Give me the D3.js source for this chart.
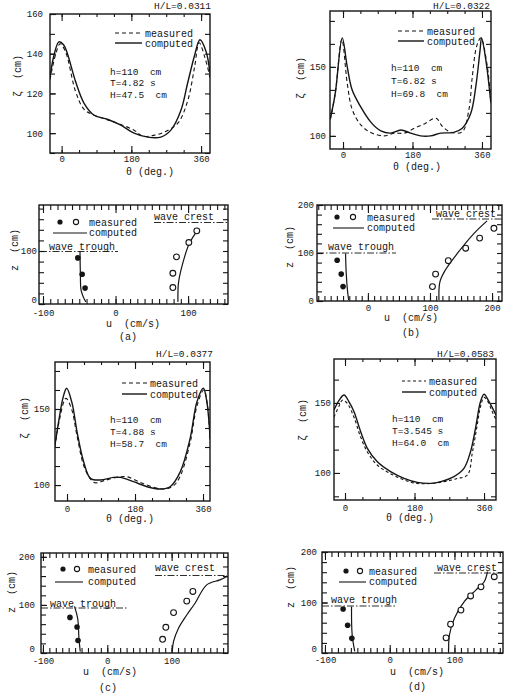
<!DOCTYPE html>
<html><head><meta charset="utf-8">
<script src="https://cdn.jsdelivr.net/npm/d3@7"></script>
<style>
body{margin:0;background:#fff}
svg{display:block}
text{font-family:"Liberation Mono","DejaVu Sans Mono",monospace;fill:#151515;white-space:pre}
</style>
</head><body><svg id="c" width="507" height="694"></svg>
<script>
// ---------------- DATA ----------------
// surface profiles  (theta in deg, zeta in cm)
const aThetaComp = [-30,-20,-7,5,15,36,58,84,118,153,187,222,256,282,308,325,343,357,373,383];
const aZetaComp  = [128,139,146,144.5,140,126,115,109,107,104,100,98,98,101.5,111.5,125,139,147,141,130];
const aThetaMeas = [-30,-15,-4,10,36,58,84,130,187,210,240,270,300,325,343,355,370,383];
const aZetaMeas  = [127,140,145,141,121,112,109,106,101.5,98.5,99,101,105,116,133,145.5,138,128];

const bThetaComp = [-33,-20,-2,11,24,46,72,98,123,150,175,201,227,253,287,309,331,344,355,359,370,383];
const bZetaComp  = [112,131,171,150,133,121,110,103.6,102,104.3,102,100,100,102,102.6,105.6,116.4,135.7,162,171,155,124];
const bThetaMeas = [-33,-20,-3,11,24,46,72,107,133,159,185,211,241,258,280,309,326,335,346,357,374,383];
const bZetaMeas  = [112,131,170,138,119,108,102.4,100,102,102,105.6,108.7,112.8,106.7,102.6,103,118.8,143,164.7,171,150,124];

const cThetaComp = [-32,-20,-10,-1,13.5,26.5,44,62,88,123,141,176,212,247,273,300,326,344,361,370,379];
const cZetaComp  = [126,145,158,163.6,153.7,135,115.3,104.4,103.3,105,105,102.2,98.9,97.4,98.9,108.8,130.7,154.8,163.6,155,130];
const cThetaMeas = [-32,-20,-3,12,26,44,62,74,100,130,158,194,230,260,282,300,326,344,362,372,379];
const cZetaMeas  = [125,143,157,150,133,113,104,101.5,103,105,105.5,101.7,98.5,97.4,99.5,106,128,152,162.5,152,128];

const dThetaComp = [-28.5,-15,-2.6,10,23.3,40.6,57.9,83.8,118,153,187.5,222,248,282,308,325,338,351,360,373,391];
const dZetaComp  = [145,152,155.7,151,143.8,129.5,117.6,108,101,96.2,93.3,92.6,93.8,97.4,103.3,115.2,132,151,156.2,151,141.4];
const dThetaMeas = [-28.5,-15,-7,5,23,40,58,84,118,153,187,222,260,290,317,330,341,351,360,368,381,391];
const dZetaMeas  = [140,148,152,150,140,126,115,105.5,99.5,95,92.5,92.5,94,96,98.6,115,132,147.6,154,152,144,138];

// velocity profiles (u in cm/s, z in cm)
const aTroughMeasU = [-52,-46,-42],            aTroughMeasZ = [87,56,30];
const aTroughCompU = [-49,-48.5,-47.5,-44,-41], aTroughCompZ = [100,60,26,12,4];
const aCrestMeasU  = [79,79,84,101,112],         aCrestMeasZ  = [31,58,89,116,138];
const aCrestCompU  = [86,86.7,91.3,101.8,114],   aCrestCompZ  = [4,39,70,114.5,141];

const bTroughMeasU = [-49.5,-43,-40],            bTroughMeasZ = [85,56,30];
const bTroughCompU = [-36,-35,-33,-31],          bTroughCompZ = [99,60,23,2];
const bCrestMeasU  = [104,109,129.5,157.5,180,203], bCrestMeasZ = [30,56,84,110,131,151.5];
const bCrestCompU  = [114.5,116,125,144,171,192],   bCrestCompZ = [2,40,65,99,141,167];

const cTroughMeasU = [-58,-47,-45.5],            cTroughMeasZ = [74,54,26];
const cTroughCompU = [-51,-46,-44,-42],          cTroughCompZ = [97,72,30,3];
const cCrestMeasU  = [86,91,103,123.5,133],      cCrestMeasZ  = [28.5,53.5,84,108,128];
const cCrestCompU  = [101,103,110.5,123.5,136.4,154.5,175,186], cCrestCompZ = [3,24,51,79,103.5,141.7,152,159];

const dTroughMeasU = [-72,-65,-58.5],            dTroughMeasZ = [87,55,29];
const dTroughCompU = [-59,-58,-54],              dTroughCompZ = [92,36,3];
const dCrestMeasU  = [87,94,110,125,141,161.5],  dCrestMeasZ  = [30,57,85,113,131,151];
const dCrestCompU  = [91,92.3,100,115.4,133.4,146,151], dCrestCompZ = [3,36,69,102,125,141,161];

// tick labels
const thetaTickLabels = [0,180,360];
const thetaMinorTicks = [0,45,90,135,180,225,270,315,360];
const uTickLabelsA = [-100,0,100];
const uTickLabelsB = [0,100,200];
const zTickLabelsA = [0,100];
const zTickLabelsB = [0,100,200];
const ratioLabels = ["H/L=0.0311","H/L=0.0322","H/L=0.0377","H/L=0.0583"];
const paramLabels = [
  ["h=110  cm","T=4.82 s","H=47.5  cm"],
  ["h=110  cm","T=6.82 s","H=69.8  cm"],
  ["h=110  cm","T=4.88 s","H=58.7  cm"],
  ["h=110  cm","T=3.545 s","H=64.0  cm"]
];
const panelLetters = ["(a)","(b)","(c)","(d)"];

// ---------------- DRAWING ----------------
const svg = d3.select("#c");
const INK = "#151515";
let clipN = 0;
const zip = (a,b) => a.map((v,i)=>[v,b[i]]);
const range = (a,b,s) => { const r=[]; for(let v=a; v<=b+1e-9; v+=s) r.push(+v.toFixed(3)); return r; };

function frameAndAxes(o, x, y){
  const g = svg.append("g");
  const styleAxis = sel => {
    sel.select(".domain").remove();
    sel.selectAll("line").attr("stroke",INK).attr("stroke-width",1.1);
    sel.selectAll("text").attr("font-family",'"Liberation Mono",monospace').attr("font-size",o.tickFont||9).attr("fill",INK);
  };
  // minor ticks
  g.append("g").attr("transform",`translate(0,${o.y1})`).call(d3.axisBottom(x).tickValues(o.xMinor).tickSize(-o.minorLen).tickFormat("")).call(styleAxis);
  g.append("g").attr("transform",`translate(0,${o.y0})`).call(d3.axisTop(x).tickValues(o.xMinor).tickSize(-o.minorLen).tickFormat("")).call(styleAxis);
  g.append("g").attr("transform",`translate(${o.x0},0)`).call(d3.axisLeft(y).tickValues(o.yMinor).tickSize(-5).tickFormat("")).call(styleAxis);
  g.append("g").attr("transform",`translate(${o.x1},0)`).call(d3.axisRight(y).tickValues(o.yMinor).tickSize(-5).tickFormat("")).call(styleAxis);
  // major ticks with labels
  g.append("g").attr("transform",`translate(0,${o.y1})`).call(d3.axisBottom(x).tickValues(o.xLabels).tickSize(-o.majorLen).tickPadding(o.xPad).tickFormat(d=>d)).call(styleAxis);
  g.append("g").attr("transform",`translate(0,${o.y0})`).call(d3.axisTop(x).tickValues(o.xLabels).tickSize(-o.majorLen).tickFormat("")).call(styleAxis);
  const yl = g.append("g").attr("transform",`translate(${o.x0},0)`).call(d3.axisLeft(y).tickValues(o.yLabels).tickSize(-6).tickPadding(o.yPad).tickFormat(d=>d)).call(styleAxis);
  if (o.liftZero) yl.selectAll(".tick").filter(d=>d===0).select("text").attr("dy","-0.2em");
  // frame
  g.append("rect").attr("x",o.x0).attr("y",o.y0).attr("width",o.x1-o.x0).attr("height",o.y1-o.y0)
    .attr("fill","none").attr("stroke",INK).attr("stroke-width",1.4);
  // axis titles
  svg.append("text").attr("x",o.xt[0]).attr("y",o.xt[1]).attr("text-anchor","middle").attr("font-size",10).text(o.xTitle);
  svg.append("text").attr("transform",`translate(${o.yt[0]},${o.yt[1]}) rotate(-90)`).attr("text-anchor","middle").attr("font-size",10).text(o.yTitle);
  const id = "clip"+(clipN++);
  svg.append("clipPath").attr("id",id).append("rect").attr("x",o.x0).attr("y",o.y0).attr("width",o.x1-o.x0).attr("height",o.y1-o.y0);
  return id;
}

function surfacePanel(o){
  const x = d3.scaleLinear().domain(o.xd).range([o.x0,o.x1]);
  const y = d3.scaleLinear().domain(o.yd).range([o.y1,o.y0]);
  o.xMinor = thetaMinorTicks; o.xLabels = thetaTickLabels;
  o.minorLen = 3; o.majorLen = 7;
  o.xTitle = "θ (deg.)"; o.yTitle = "ζ  (cm)";
  const id = frameAndAxes(o,x,y);
  const line = d3.line().x(d=>x(d[0])).y(d=>y(d[1])).curve(d3.curveCatmullRom.alpha(0.5));
  const g = svg.append("g").attr("clip-path",`url(#${id})`);
  g.append("path").datum(zip(o.tm,o.zm)).attr("d",line).attr("fill","none").attr("stroke",INK).attr("stroke-width",1.1).attr("stroke-dasharray",o.dash);
  g.append("path").datum(zip(o.tc,o.zc)).attr("d",line).attr("fill","none").attr("stroke",INK).attr("stroke-width",1.4);
  // ratio label
  svg.append("text").attr("x",o.ratio[0]).attr("y",o.ratio[1]).attr("text-anchor","end").attr("font-size",9.5).text(ratioLabels[o.k]);
  // legend
  const L = o.leg;
  svg.append("line").attr("x1",L[0]).attr("x2",L[1]).attr("y1",L[2]).attr("y2",L[2]).attr("stroke",INK).attr("stroke-width",1.1).attr("stroke-dasharray",o.dash);
  svg.append("line").attr("x1",L[0]).attr("x2",L[1]).attr("y1",L[3]).attr("y2",L[3]).attr("stroke",INK).attr("stroke-width",1.4);
  svg.append("text").attr("x",L[1]+3).attr("y",L[2]+3.5).attr("font-size",10).text("measured");
  svg.append("text").attr("x",L[1]+3).attr("y",L[3]+3.5).attr("font-size",10).text("computed");
  paramLabels[o.k].forEach((t,i)=>{
    svg.append("text").attr("x",o.par[0]).attr("y",o.par[1]+i*o.par[2]).attr("font-size",9.5).text(t);
  });
}

function velocityPanel(o){
  const x = d3.scaleLinear().domain(o.xd).range([o.x0,o.x1]);
  const y = d3.scaleLinear().domain(o.yd).range([o.y1,o.y0]);
  o.xMinor = range(Math.ceil(o.xd[0]/10)*10, o.xd[1], 10);
  o.yMinor = range(0, o.yd[1], 20);
  o.minorLen = 5; o.majorLen = 8;
  o.xTitle = "u  (cm/s)"; o.yTitle = "z  (cm)";
  const id = frameAndAxes(o,x,y);
  const line = d3.line().x(d=>x(d[0])).y(d=>y(d[1])).curve(d3.curveCatmullRom.alpha(0.5));
  const g = svg.append("g").attr("clip-path",`url(#${id})`);
  g.append("path").datum(zip(o.tcU,o.tcZ)).attr("d",line).attr("fill","none").attr("stroke",INK).attr("stroke-width",1.2);
  g.append("path").datum(zip(o.ccU,o.ccZ)).attr("d",line).attr("fill","none").attr("stroke",INK).attr("stroke-width",1.2);
  g.selectAll(".f").data(zip(o.tmU,o.tmZ)).join("circle").attr("cx",d=>x(d[0])).attr("cy",d=>y(d[1])).attr("r",2.8).attr("fill",INK);
  g.selectAll(".o").data(zip(o.cmU,o.cmZ)).join("circle").attr("cx",d=>x(d[0])).attr("cy",d=>y(d[1])).attr("r",2.9).attr("fill","#fff").attr("stroke",INK).attr("stroke-width",1.1);
  // legend
  const L = o.leg; // [dotX, openX, rowY, lineX0, lineX1, row2Y, textX]
  svg.append("circle").attr("cx",L[0]).attr("cy",L[2]).attr("r",2.6).attr("fill",INK);
  svg.append("circle").attr("cx",L[1]).attr("cy",L[2]).attr("r",2.6).attr("fill","#fff").attr("stroke",INK).attr("stroke-width",1.1);
  svg.append("text").attr("x",L[6]).attr("y",L[2]+3.5).attr("font-size",10).text("measured");
  svg.append("line").attr("x1",L[3]).attr("x2",L[4]).attr("y1",L[5]).attr("y2",L[5]).attr("stroke",INK).attr("stroke-width",1.1);
  svg.append("text").attr("x",L[6]).attr("y",L[5]+3).attr("font-size",10).text("computed");
  // wave crest / trough labels with underline
  const dd = "7,2,1.5,2";
  const C = o.crest, T = o.trough; // [textX, textY, lineX0, lineX1, lineY]
  svg.append("text").attr("x",C[0]).attr("y",C[1]).attr("font-size",10).text("wave crest");
  svg.append("line").attr("x1",C[2]).attr("x2",C[3]).attr("y1",C[4]).attr("y2",C[4]).attr("stroke",INK).attr("stroke-width",0.9).attr("stroke-dasharray",dd);
  svg.append("text").attr("x",T[0]).attr("y",T[1]).attr("font-size",10).text("wave trough");
  svg.append("line").attr("x1",T[2]).attr("x2",T[3]).attr("y1",T[4]).attr("y2",T[4]).attr("stroke",INK).attr("stroke-width",0.9).attr("stroke-dasharray",dd);
  svg.append("text").attr("x",o.letter[0]).attr("y",o.letter[1]).attr("text-anchor","middle").attr("font-size",10).text(panelLetters[o.k]);
}

// top-left surface (a)
surfacePanel({k:0, x0:50,x1:210,y0:14,y1:153, xd:[-30,383], yd:[90,160],
  yMinor:range(90,160,10), yLabels:[100,120,140,160], xPad:3, yPad:7,
  tc:aThetaComp, zc:aZetaComp, tm:aThetaMeas, zm:aZetaMeas, dash:"4,3",
  xt:[150,175], yt:[21,76], ratio:[211,9], leg:[115,142,33,43], par:[110,74.5,11.5]});
// top-right surface (b)
surfacePanel({k:1, x0:330,x1:491,y0:11,y1:149, xd:[-33.7,383.4], yd:[90.5,190.5],
  yMinor:[100,116.67,133.33,150,166.67,183.33], yLabels:[100,150], xPad:3, yPad:4,
  tc:bThetaComp, zc:bZetaComp, tm:bThetaMeas, zm:bZetaMeas, dash:"4,3",
  xt:[417,170], yt:[304,78], ratio:[490,9], leg:[398,424,31,41], par:[391,70.5,13]});
// bottom-left surface (c)
surfacePanel({k:2, x0:55,x1:210,y0:362,y1:501, xd:[-31.8,378.5], yd:[89.5,180.9],
  yMinor:range(100,175,12.5), yLabels:[100,150], xPad:5, yPad:5,
  tc:cThetaComp, zc:cZetaComp, tm:cThetaMeas, zm:cZetaMeas, dash:"4,3",
  xt:[130,522], yt:[28,418], ratio:[213,357], leg:[122,147,383,394], par:[110,422.5,12]});
// bottom-right surface (d)
surfacePanel({k:3, x0:334,x1:496,y0:359,y1:500, xd:[-28.5,391], yd:[80.7,181.4],
  yMinor:[83.33,100,116.67,133.33,150,166.67], yLabels:[100,150], xPad:5, yPad:3,
  tc:dThetaComp, zc:dZetaComp, tm:dThetaMeas, zm:dZetaMeas, dash:"3,2.5",
  xt:[410,521], yt:[306,420], ratio:[494,357], leg:[402,426,381,392], par:[392,421.5,12]});

// velocity (a)
velocityPanel({k:0, x0:39,x1:228,y0:205,y1:304, xd:[-105.5,155], yd:[0,186.8],
  xLabels:uTickLabelsA, yLabels:zTickLabelsA, xPad:6, yPad:2, liftZero:true,
  tmU:aTroughMeasU, tmZ:aTroughMeasZ, tcU:aTroughCompU, tcZ:aTroughCompZ,
  cmU:aCrestMeasU, cmZ:aCrestMeasZ, ccU:aCrestCompU, ccZ:aCrestCompZ,
  xt:[133,327], yt:[18,250], letter:[128,340],
  leg:[60,76,222,53,87,233,89], crest:[154,220,154,228,222.5], trough:[49,250,40,118,251.5]});
// velocity (b)
velocityPanel({k:1, x0:317,x1:502,y0:205,y1:301, xd:[-82,216], yd:[0,200],
  xLabels:uTickLabelsB, yLabels:zTickLabelsB, xPad:4, yPad:3,
  tmU:bTroughMeasU, tmZ:bTroughMeasZ, tcU:bTroughCompU, tcZ:bTroughCompZ,
  cmU:bCrestMeasU, cmZ:bCrestMeasZ, ccU:bCrestCompU, ccZ:bCrestCompZ,
  xt:[411,321], yt:[293,247], letter:[411,336],
  leg:[337,353,217,333,364,228,367], crest:[436,217,432,502,219], trough:[328,250,317,396,253]});
// velocity (c)
velocityPanel({k:2, x0:41,x1:228,y0:553,y1:653, xd:[-103,187.6], yd:[0,208],
  xLabels:uTickLabelsA, yLabels:zTickLabelsB, xPad:5, yPad:6, liftZero:true,
  tmU:cTroughMeasU, tmZ:cTroughMeasZ, tcU:cTroughCompU, tcZ:cTroughCompZ,
  cmU:cCrestMeasU, cmZ:cCrestMeasZ, ccU:cCrestCompU, ccZ:cCrestCompZ,
  xt:[110,675], yt:[15,592], letter:[108,691],
  leg:[63,77,569,55,83,582,88], crest:[155,571,155,227,575.5], trough:[50,607,41,127,608]});
// velocity (d)
velocityPanel({k:3, x0:322,x1:503,y0:552,y1:653, xd:[-104.6,175], yd:[0,200],
  xLabels:uTickLabelsA, yLabels:zTickLabelsB, xPad:4, yPad:5, liftZero:true,
  tmU:dTroughMeasU, tmZ:dTroughMeasZ, tcU:dTroughCompU, tcZ:dTroughCompZ,
  cmU:dCrestMeasU, cmZ:dCrestMeasZ, ccU:dCrestCompU, ccZ:dCrestCompZ,
  xt:[417,675], yt:[294,587], letter:[417,690],
  leg:[346,360,571,339,366,582,369], crest:[437,571,434,502,573], trough:[331,603,322,397,606]});
</script></body></html>
